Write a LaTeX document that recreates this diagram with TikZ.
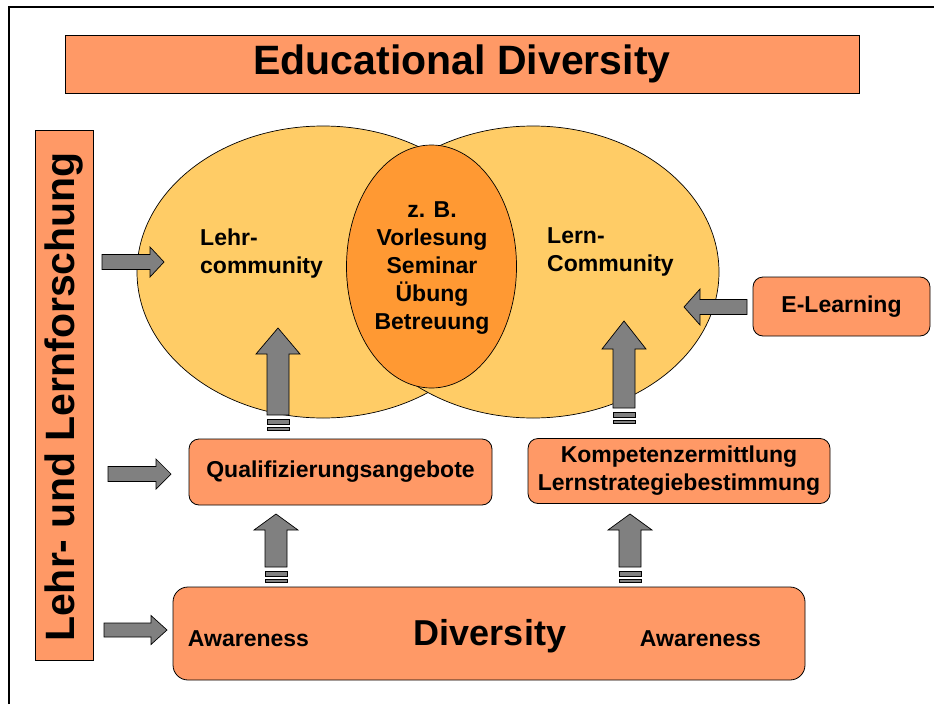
\documentclass[tikz,border=0pt]{standalone}
\usepackage{fontspec}
\setmainfont{Liberation Sans}
\usetikzlibrary{shapes.geometric}
\definecolor{boxor}{HTML}{FF9966}
\definecolor{ellyel}{HTML}{FFCC66}
\definecolor{ellor}{HTML}{FF9933}
\definecolor{arrgray}{HTML}{808080}
\tikzset{
  lbl/.style={font=\bfseries\fontsize{23}{28}\selectfont, inner sep=0pt},
  orbox/.style={draw=black, fill=boxor, line width=0.8pt, rounded corners=10pt, inner sep=0pt},
  sqbox/.style={draw=black, fill=boxor, line width=0.8pt, inner sep=0pt},
  bigell/.style={draw=black, fill=ellyel, line width=0.7pt, ellipse, inner sep=0pt},
  blockarrow/.style={draw=black, fill=arrgray, line width=0.7pt, line join=miter},
}
% up arrow: centre x, tip y, head base y, shaft bottom y
\newcommand\myuparr[4]{%
  \draw[blockarrow] (#1,#2) -- (#1+22,#3) -- (#1+11,#3) -- (#1+11,#4) -- (#1-11,#4) -- (#1-11,#3) -- (#1-22,#3) -- cycle;
  \draw[blockarrow] (#1-11,#4+4) rectangle (#1+11,#4+9);
  \draw[blockarrow] (#1-11,#4+12) rectangle (#1+11,#4+15);
}
% horizontal arrow: tip x, centre y, head base x, tail x, head half, shaft half
\newcommand\myharr[6]{%
  \draw[blockarrow] (#1,#2) -- (#3,#2-#5) -- (#3,#2-#6) -- (#4,#2-#6) -- (#4,#2+#6) -- (#3,#2+#6) -- (#3,#2+#5) -- cycle;
}
\begin{document}
\begin{tikzpicture}[x=1pt,y=-1pt]
\useasboundingbox (0,0) rectangle (934,704);
\fill[white] (0,0) rectangle (934,704);
% frame
\draw[line width=2pt] (9,704) -- (9,6.5) -- (934,6.5);

% title
\node[sqbox, minimum width=794pt, minimum height=58pt,
      font=\bfseries\fontsize{41}{44}\selectfont] (title) at (462,64) {Educational Diversity};

% vertical box
\node[sqbox, minimum width=58pt, minimum height=530pt] (vbox) at (64,395) {};
\node[rotate=90, font=\bfseries\fontsize{41}{44}\selectfont, inner sep=0pt] (vtext) at (64,397) {Lehr- und Lernforschung};

% ellipses
\node[bigell, minimum width=372pt, minimum height=292pt] (lell) at (323,272) {};
\node[bigell, minimum width=372pt, minimum height=292pt] (rell) at (533,272) {};
\node[draw=black, fill=ellor, line width=0.7pt, ellipse, inner sep=0pt,
      minimum width=170pt, minimum height=243pt] (cell) at (431.5,266.5) {};
\node[lbl, align=center] (ctext) at (432,268) {z. B.\\Vorlesung\\Seminar\\Übung\\Betreuung};
\node[lbl, align=left, anchor=west] (ltext) at (200,254) {Lehr-\\community};
\node[lbl, align=left, anchor=west] (rtext) at (547,252) {Lern-\\Community};

% boxes
\node[orbox, minimum width=303pt, minimum height=66pt, lbl] (qual) at (340.5,472) {Qualifizierungsangebote};
\node[orbox, minimum width=302pt, minimum height=65pt, lbl, align=center] (komp) at (679,471) {Kompetenzermittlung\\Lernstrategiebestimmung};
\node[orbox, minimum width=177pt, minimum height=59pt, lbl] (elearn) at (841.5,306.5) {E-Learning};
\node[orbox, rounded corners=15pt, minimum width=632pt, minimum height=93pt] (div) at (489,633.5) {};
\node[font=\bfseries\fontsize{36}{40}\selectfont, inner sep=0pt] (divtext) at (490,636) {Diversity};
\node[lbl] (aw1) at (248.5,639) {Awareness};
\node[lbl] (aw2) at (700.5,639) {Awareness};

% arrows
\myharr{164}{262}{150}{102}{15}{7.5}
\myharr{171}{474}{156}{108}{15}{7.5}
\myharr{167}{630}{151}{104}{14.5}{7}
\myharr{684}{307}{700}{747}{18}{7.5}
\myuparr{278}{328}{354}{415}
\myuparr{276}{514}{530}{567}
\myuparr{624}{321}{349}{408}
\myuparr{630}{514}{530}{567}
\end{tikzpicture}
\end{document}
